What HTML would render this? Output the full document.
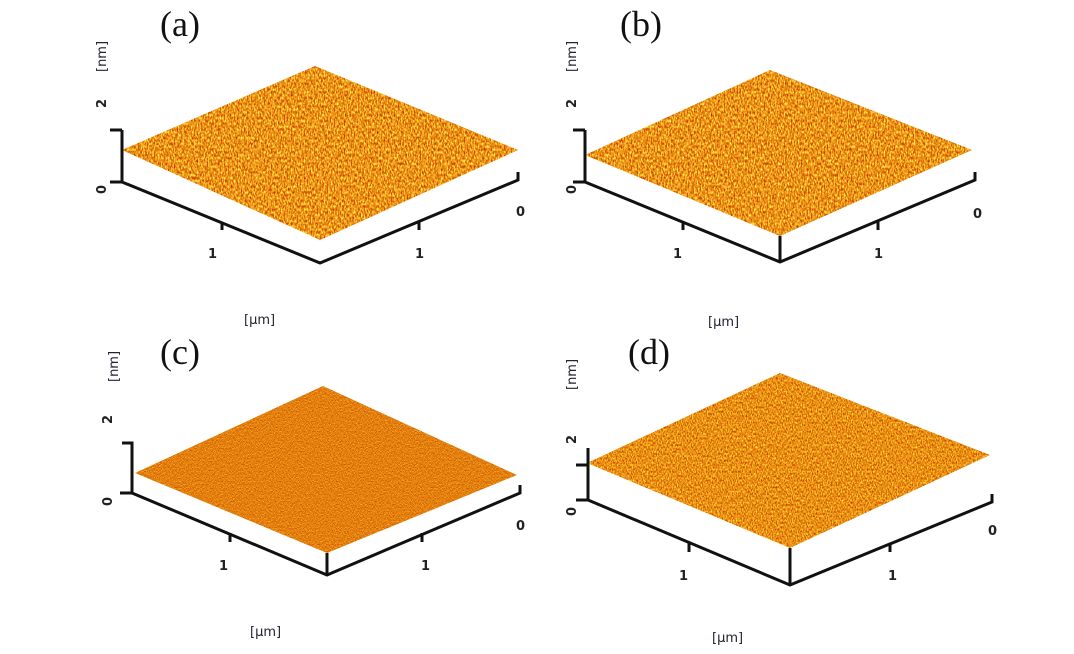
<!DOCTYPE html>
<html><head><meta charset="utf-8"><style>
html,body{margin:0;padding:0;background:#fff;}
svg{display:block;}
.lab{font-family:"Liberation Serif",serif;font-size:36px;fill:#111;}
.t{font-family:"DejaVu Sans","Liberation Sans",sans-serif;font-size:13px;font-weight:bold;fill:#222;}
.u{font-family:"DejaVu Sans","Liberation Sans",sans-serif;font-size:13px;fill:#223;}
.ax{stroke:#111;stroke-width:3;fill:none;}
filter{color-interpolation-filters:sRGB;}
</style></head><body>
<svg width="1074" height="654" viewBox="0 0 1074 654" xmlns="http://www.w3.org/2000/svg">
<defs>
<filter id="n1" x="0" y="0" width="100%" height="100%" color-interpolation-filters="sRGB">
<feTurbulence type="fractalNoise" baseFrequency="0.7 0.35" numOctaves="3" seed="3" result="t"/>
<feColorMatrix in="t" type="matrix" values="0.5 0 0 0 0.67  1.4 0 0 0 -0.12  0.6 0 0 0 -0.2  0 0 0 0 1" result="c"/>
<feComposite in="c" in2="SourceGraphic" operator="in"/>
</filter>
<filter id="n2" x="0" y="0" width="100%" height="100%" color-interpolation-filters="sRGB">
<feTurbulence type="fractalNoise" baseFrequency="0.8 0.45" numOctaves="3" seed="7" result="t"/>
<feColorMatrix in="t" type="matrix" values="0.4 0 0 0 0.71  1.2 0 0 0 -0.04  0.4 0 0 0 -0.12  0 0 0 0 1" result="c"/>
<feComposite in="c" in2="SourceGraphic" operator="in"/>
</filter>
<filter id="n3" x="0" y="0" width="100%" height="100%" color-interpolation-filters="sRGB">
<feTurbulence type="fractalNoise" baseFrequency="1.0 0.7" numOctaves="2" seed="5" result="t"/>
<feColorMatrix in="t" type="matrix" values="0.3 0 0 0 0.74  0.8 0 0 0 0.1  0.2 0 0 0 -0.04  0 0 0 0 1" result="c"/>
<feComposite in="c" in2="SourceGraphic" operator="in"/>
</filter>
</defs>

<!-- (a) -->
<text class="lab" x="160" y="36">(a)</text>
<text class="u" transform="translate(106,72) rotate(-90)">[nm]</text>
<text class="t" transform="translate(106,108) rotate(-90)">2</text>
<text class="t" transform="translate(106,194) rotate(-90)">0</text>
<polygon points="122,150 315,66 518,150 320,240" fill="#e8941a" filter="url(#n1)"/>
<polyline class="ax" points="122,130 122,182 320,263 518,180 518,172"/>
<line class="ax" x1="110" y1="130" x2="122" y2="130"/><line class="ax" x1="110" y1="182" x2="122" y2="182"/>
<line class="ax" x1="222" y1="222" x2="222" y2="230"/><line class="ax" x1="419" y1="222" x2="419" y2="230"/>
<text class="t" x="208" y="258">1</text><text class="t" x="415" y="258">1</text><text class="t" x="516" y="216">0</text>
<text class="u" x="244" y="324">[µm]</text>

<!-- (b) -->
<text class="lab" x="620" y="36">(b)</text>
<text class="u" transform="translate(576,72) rotate(-90)">[nm]</text>
<text class="t" transform="translate(576,108) rotate(-90)">2</text>
<text class="t" transform="translate(576,194) rotate(-90)">0</text>
<polygon points="585,155 770,70 972,150 780,236" fill="#e8901a" filter="url(#n1)"/>
<polyline class="ax" points="585,130 585,182 780,262 975,180 975,172"/>
<line class="ax" x1="573" y1="130" x2="585" y2="130"/><line class="ax" x1="573" y1="182" x2="585" y2="182"/>
<line class="ax" x1="780" y1="236" x2="780" y2="262"/>
<line class="ax" x1="683" y1="222" x2="683" y2="230"/><line class="ax" x1="878" y1="222" x2="878" y2="230"/>
<text class="t" x="673" y="258">1</text><text class="t" x="874" y="258">1</text><text class="t" x="973" y="218">0</text>
<text class="u" x="708" y="326">[µm]</text>

<!-- (c) -->
<text class="lab" x="160" y="364">(c)</text>
<text class="u" transform="translate(118,382) rotate(-90)">[nm]</text>
<text class="t" transform="translate(112,424) rotate(-90)">2</text>
<text class="t" transform="translate(112,506) rotate(-90)">0</text>
<polygon points="135,473 323,386 517,475 327,553" fill="#e0780e" filter="url(#n3)"/>
<polyline class="ax" points="122,443 132,443 132,493 327,575 520,493 520,485"/>
<line class="ax" x1="120" y1="493" x2="132" y2="493"/>
<line class="ax" x1="327" y1="553" x2="327" y2="575"/>
<line class="ax" x1="230" y1="533" x2="230" y2="542"/><line class="ax" x1="422" y1="533" x2="422" y2="542"/>
<text class="t" x="219" y="570">1</text><text class="t" x="421" y="570">1</text><text class="t" x="516" y="530">0</text>
<text class="u" x="250" y="636">[µm]</text>

<!-- (d) -->
<text class="lab" x="628" y="364">(d)</text>
<text class="u" transform="translate(576,390) rotate(-90)">[nm]</text>
<text class="t" transform="translate(576,444) rotate(-90)">2</text>
<text class="t" transform="translate(576,516) rotate(-90)">0</text>
<polygon points="587,463 780,373 990,455 790,548" fill="#e8901a" filter="url(#n2)"/>
<polyline class="ax" points="588,448 588,500 790,585 992,502 992,494"/>
<line class="ax" x1="576" y1="465" x2="588" y2="465"/><line class="ax" x1="576" y1="500" x2="588" y2="500"/>
<line class="ax" x1="790" y1="548" x2="790" y2="585"/>
<line class="ax" x1="689" y1="543" x2="689" y2="552"/><line class="ax" x1="890" y1="543" x2="890" y2="552"/>
<text class="t" x="679" y="580">1</text><text class="t" x="888" y="580">1</text><text class="t" x="988" y="535">0</text>
<text class="u" x="712" y="642">[µm]</text>
</svg>
</body></html>
